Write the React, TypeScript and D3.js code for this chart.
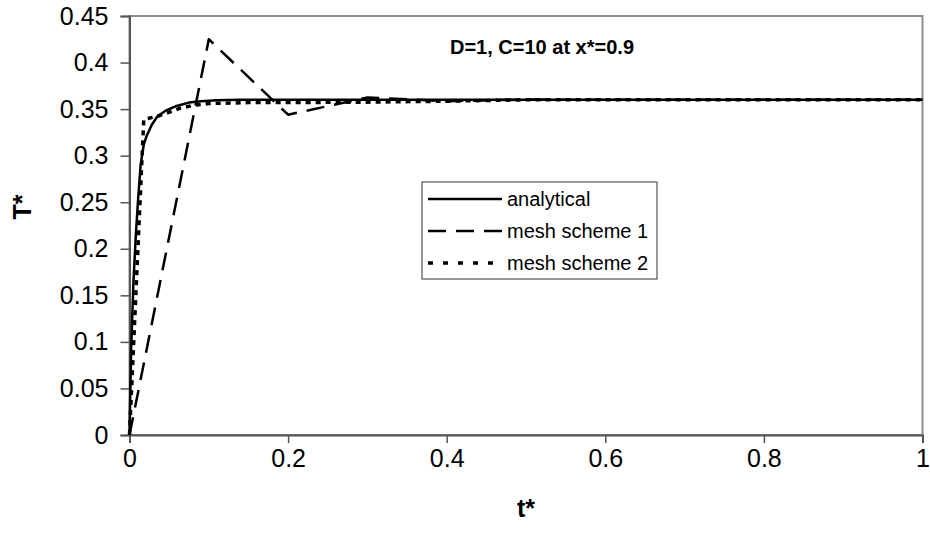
import React, { useEffect, useRef } from 'react';
import * as d3 from 'd3';

const width = 930;
const height = 537;

// analytical solution
const analyticalT = [0, 0.002, 0.005, 0.008, 0.011, 0.014, 0.018, 0.022, 0.028, 0.035, 0.045, 0.058, 0.075, 0.09, 0.11, 0.14, 0.2, 0.4, 0.6, 0.8, 1.0];
const analyticalY = [0, 0.09, 0.165, 0.215, 0.255, 0.29, 0.312, 0.322, 0.333, 0.342, 0.348, 0.353, 0.357, 0.3585, 0.3595, 0.36, 0.36, 0.36, 0.36, 0.36, 0.36];

// mesh scheme 1
const mesh1T = [0, 0.1, 0.2, 0.3, 0.4, 0.5, 0.6, 0.7, 0.8, 0.9, 1.0];
const mesh1Y = [0, 0.425, 0.344, 0.3625, 0.3585, 0.3603, 0.36, 0.36, 0.36, 0.36, 0.36];

// mesh scheme 2
const mesh2T = [0, 0.018, 0.034, 0.048, 0.064, 0.08, 0.1, 0.15, 0.2, 0.3, 0.4, 0.5, 0.6, 0.8, 1.0];
const mesh2Y = [0, 0.339, 0.342, 0.346, 0.351, 0.354, 0.356, 0.357, 0.357, 0.3575, 0.3585, 0.36, 0.36, 0.36, 0.36];

const xTicks = [0, 0.2, 0.4, 0.6, 0.8, 1];
const yTicks = [0, 0.05, 0.1, 0.15, 0.2, 0.25, 0.3, 0.35, 0.4, 0.45];

const seriesNames = ['analytical', 'mesh scheme 1', 'mesh scheme 2'];

const App: React.FC = () => {
  const ref = useRef<SVGSVGElement>(null);

  useEffect(() => {
    if (!ref.current) return;
    const svg = d3.select(ref.current);
    svg.selectAll('*').remove();

    const margin = { left: 129.5, top: 16, right: 7.5, bottom: 102 };
    const x = d3.scaleLinear().domain([0, 1]).range([margin.left, width - margin.right]);
    const y = d3.scaleLinear().domain([0, 0.45]).range([height - margin.bottom, margin.top]);

    const font = 'Arial, "Liberation Sans", sans-serif';

    // plot border (top + right gray)
    svg.append('rect')
      .attr('x', x(0)).attr('y', y(0.45))
      .attr('width', x(1) - x(0)).attr('height', y(0) - y(0.45))
      .attr('fill', 'none').attr('stroke', '#8c8c8c').attr('stroke-width', 2);

    const series = [
      { t: analyticalT, v: analyticalY, dash: null, w: 2.5, legendDash: null },
      { t: mesh1T, v: mesh1Y, dash: '18,10', w: 2.5, legendDash: '18,10' },
      { t: mesh2T, v: mesh2Y, dash: '5,5', w: 3.5, legendDash: '5,10' },
    ];

    const line = d3.line<[number, number]>().x((d) => x(d[0])).y((d) => y(d[1]));

    // y axis
    const yAxis = svg.append('g')
      .attr('transform', `translate(${x(0)},0)`)
      .call(d3.axisLeft(y).tickValues(yTicks).tickSize(9).tickPadding(5).tickFormat((d) => String(d)));
    yAxis.select('.domain').attr('stroke', '#555').attr('stroke-width', 2);
    yAxis.selectAll('.tick line').attr('stroke', '#555').attr('stroke-width', 1.5);
    yAxis.selectAll('.tick text')
      .attr('font-family', font).attr('font-size', 25).attr('fill', '#000').attr('x', -21);

    // x axis
    const xAxis = svg.append('g')
      .attr('transform', `translate(0,${y(0)})`)
      .call(d3.axisBottom(x).tickValues(xTicks).tickSize(8).tickPadding(5).tickFormat((d) => String(d)));
    xAxis.select('.domain').attr('stroke', '#555').attr('stroke-width', 2);
    xAxis.selectAll('.tick line').attr('stroke', '#555').attr('stroke-width', 1.5);
    xAxis.selectAll('.tick text')
      .attr('font-family', font).attr('font-size', 25).attr('fill', '#000').attr('y', 14);

    // lines
    series.forEach((s) => {
      const pts = s.t.map((t, i) => [t, s.v[i]] as [number, number]);
      svg.append('path')
        .attr('d', line(pts))
        .attr('fill', 'none')
        .attr('stroke', '#000')
        .attr('stroke-width', s.w)
        .attr('stroke-dasharray', s.dash)
        .attr('stroke-linejoin', 'round');
    });

    // title
    svg.append('text')
      .attr('x', 542).attr('y', 54)
      .attr('text-anchor', 'middle')
      .attr('font-family', font).attr('font-weight', 'bold').attr('font-size', 20)
      .text('D=1, C=10 at x*=0.9');

    // axis titles
    svg.append('text')
      .attr('x', 526).attr('y', 517)
      .attr('text-anchor', 'middle')
      .attr('font-family', font).attr('font-weight', 'bold').attr('font-size', 25)
      .text('t*');
    svg.append('text')
      .attr('transform', 'translate(31,207) rotate(-90)')
      .attr('text-anchor', 'middle')
      .attr('font-family', font).attr('font-weight', 'bold').attr('font-size', 25)
      .text('T*');

    // legend
    const lg = svg.append('g').attr('transform', 'translate(422,182)');
    lg.append('rect')
      .attr('width', 235).attr('height', 97)
      .attr('fill', '#fff').attr('stroke', '#333').attr('stroke-width', 1);
    series.forEach((s, i) => {
      const ly = 17 + i * 32;
      lg.append('line')
        .attr('x1', 6).attr('x2', 80).attr('y1', ly).attr('y2', ly)
        .attr('stroke', '#000').attr('stroke-width', s.w)
        .attr('stroke-dasharray', s.legendDash);
      lg.append('text')
        .attr('x', 85).attr('y', ly + 7)
        .attr('font-family', font).attr('font-size', 20)
        .text(seriesNames[i]);
    });
  }, []);

  return <svg ref={ref} width={width} height={height} style={{ display: 'block', position: 'absolute', left: 0, top: 0 }} />;
};

export default App;
